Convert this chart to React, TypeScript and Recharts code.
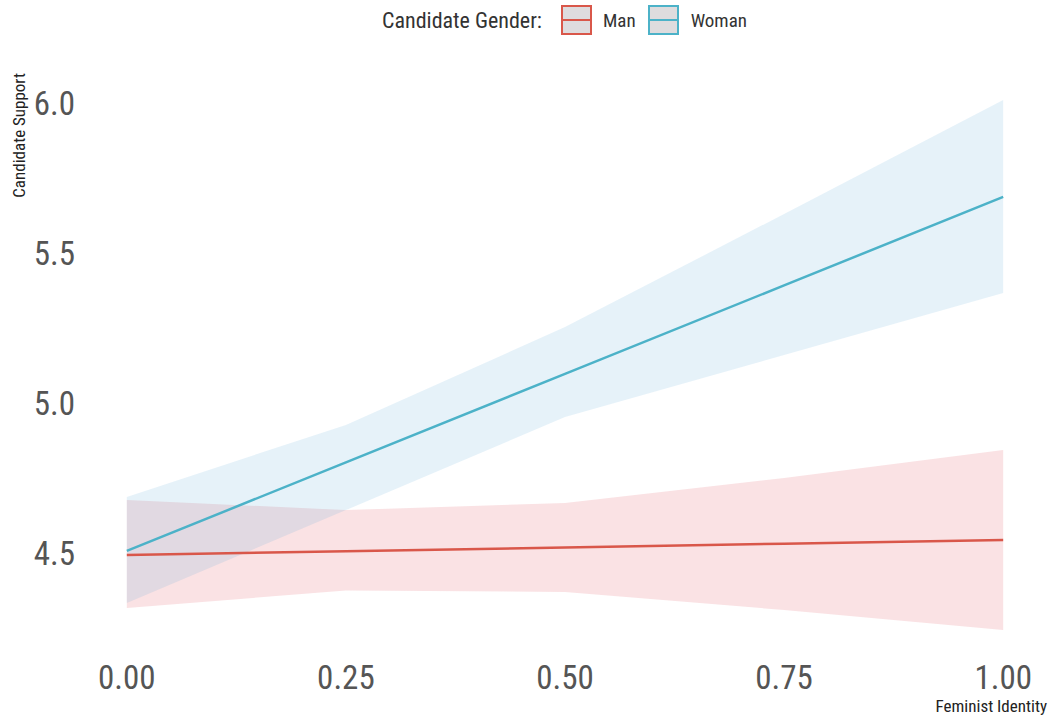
import { ComposedChart, Area, Line, XAxis, YAxis } from 'recharts'

const feministIdentity = [0, 0.25, 0.5, 0.75, 1]
const manFit = [4.493, 4.506, 4.518, 4.531, 4.543]
const manLower = [4.317, 4.375, 4.37, 4.31, 4.243]
const manUpper = [4.677, 4.643, 4.667, 4.75, 4.843]
const womanFit = [4.507, 4.802, 5.097, 5.392, 5.687]
const womanLower = [4.333, 4.643, 4.953, 5.16, 5.367]
const womanUpper = [4.687, 4.927, 5.253, 5.63, 6.01]

const xTicks = [0, 0.25, 0.5, 0.75, 1]
const yTicks = [4.5, 5.0, 5.5, 6.0]

const MAN = '#D9574A'
const WOMAN = '#4CB2C8'
const FONT = "'Roboto Condensed', 'Liberation Sans Narrow', Roboto, sans-serif"

const data = feministIdentity.map((x, i) => ({
  x,
  man: manFit[i],
  manBand: [manLower[i], manUpper[i]],
  woman: womanFit[i],
  womanBand: [womanLower[i], womanUpper[i]],
}))

function LegendKey({ color }: { color: string }) {
  return (
    <div
      style={{
        width: 27, height: 26, border: `2px solid ${color}`, background: '#DEDCDE',
        position: 'relative', boxSizing: 'content-box',
      }}
    >
      <div style={{ position: 'absolute', left: 0, right: 0, top: 12, height: 2, background: color }} />
    </div>
  )
}

export default function App() {
  return (
    <div style={{ position: 'absolute', left: 0, top: 0, width: 1057, height: 720, background: '#fff', fontFamily: FONT }}>
      <div style={{ position: 'absolute', left: 382, top: 5, height: 30, display: 'flex', alignItems: 'center' }}>
        <span style={{ fontSize: 22, color: '#333', marginRight: 19 }}>Candidate Gender:</span>
        <LegendKey color={MAN} />
        <span style={{ fontSize: 19, color: '#333', margin: '0 12px 0 11px' }}>Man</span>
        <LegendKey color={WOMAN} />
        <span style={{ fontSize: 19, color: '#333', marginLeft: 12 }}>Woman</span>
      </div>
      <ComposedChart width={1057} height={720} data={data} margin={{ top: 70, right: 10, bottom: 0, left: 0 }}>
        <XAxis
          dataKey="x"
          type="number"
          domain={[-0.05, 1.05]}
          ticks={xTicks}
          tickFormatter={(v: number) => v.toFixed(2)}
          axisLine={false}
          tickLine={false}
          height={62}
          tick={{ fontSize: 33, fill: '#555', fontFamily: FONT }}
          label={() => (
            <text x={1047} y={712} textAnchor="end" fontSize={17} fill="#222" fontFamily={FONT}>
              Feminist Identity
            </text>
          )}
        />
        <YAxis
          type="number"
          domain={[4.15, 6.11]}
          ticks={yTicks}
          tickFormatter={(v: number) => v.toFixed(1)}
          axisLine={false}
          tickLine={false}
          width={83}
          tick={{ fontSize: 33, fill: '#555', fontFamily: FONT }}
          label={() => (
            <text
              x={25}
              y={73}
              transform="rotate(-90 25 73)"
              textAnchor="end"
              fontSize={17}
              fill="#222"
              fontFamily={FONT}
            >
              Candidate Support
            </text>
          )}
        />
        <Area dataKey="manBand" type="linear" stroke="none" fill="#E66E76" fillOpacity={0.2} isAnimationActive={false} />
        <Area dataKey="womanBand" type="linear" stroke="none" fill="#58A8D8" fillOpacity={0.15} isAnimationActive={false} />
        <Line dataKey="woman" type="linear" stroke={WOMAN} strokeWidth={2.5} dot={false} isAnimationActive={false} />
        <Line dataKey="man" type="linear" stroke={MAN} strokeWidth={2.5} dot={false} isAnimationActive={false} />
      </ComposedChart>
    </div>
  )
}
